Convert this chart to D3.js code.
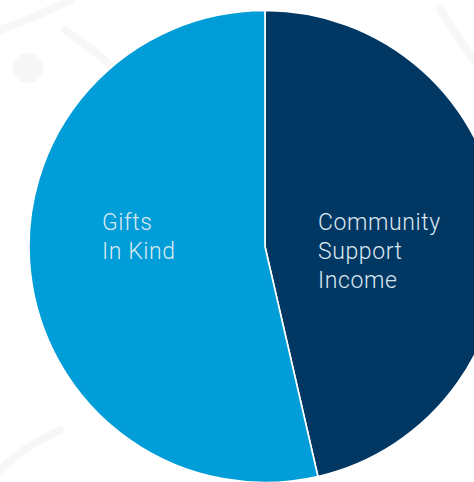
<!DOCTYPE html>
<html>
<head>
<meta charset="utf-8">
<script src="https://cdn.jsdelivr.net/npm/d3@7"></script>
<style>
  html, body { margin: 0; padding: 0; background: #ffffff; }
  svg { display: block; }
</style>
</head>
<body>
<svg id="chart" width="474" height="482"></svg>
<script>
// Data
const categories = ["Community Support Income", "Gifts In Kind"];
const values = [46.4, 53.6];
const labelLines = [["Community", "Support", "Income"], ["Gifts", "In Kind"]];
const colors = ["#013763", "#009dd9"];

const W = 474, H = 482;
const cx = 265, cy = 246.5, R = 236;

const svg = d3.select("#chart");

// faint background decoration
svg.append("circle").attr("cx", 28).attr("cy", 68).attr("r", 15).attr("fill", "#f7f7f7");
const deco = svg.append("g").attr("fill", "none").attr("stroke", "#f7f7f7").attr("stroke-width", 8).attr("stroke-linecap", "round");
deco.append("path").attr("d", "M0,30 C30,20 50,10 70,0");
deco.append("path").attr("d", "M65,30 C85,45 110,60 120,80");
deco.append("path").attr("d", "M0,470 C20,450 40,440 60,430");
deco.append("path").attr("d", "M440,10 C455,30 465,50 474,60");

const data = categories.map((c, i) => ({ name: c, value: values[i], lines: labelLines[i], color: colors[i] }));

const pie = d3.pie().sort(null).value(d => d.value);
const arc = d3.arc().innerRadius(0).outerRadius(R);
const arcs = pie(data);

const g = svg.append("g").attr("transform", `translate(${cx},${cy})`);
g.selectAll("path.slice")
  .data(arcs)
  .join("path")
  .attr("class", "slice")
  .attr("d", arc)
  .attr("fill", d => d.data.color)
  .attr("stroke", "#ffffff")
  .attr("stroke-width", 1.6)
  .attr("stroke-linejoin", "round");

const labelPos = [{ dx: 53, dy: -17 }, { dx: -163, dy: -17 }];
const lineH = 29;

arcs.forEach((a, i) => {
  const t = g.append("text")
    .attr("font-family", "Roboto, 'DejaVu Sans', sans-serif")
    .attr("font-weight", 300)
    .attr("font-size", 23)
    .attr("letter-spacing", 0.6)
    .attr("fill", "#dbe7ef");
  a.data.lines.forEach((ln, j) => {
    t.append("tspan")
      .attr("x", labelPos[i].dx)
      .attr("y", labelPos[i].dy + j * lineH)
      .text(ln);
  });
});
</script>
</body>
</html>
